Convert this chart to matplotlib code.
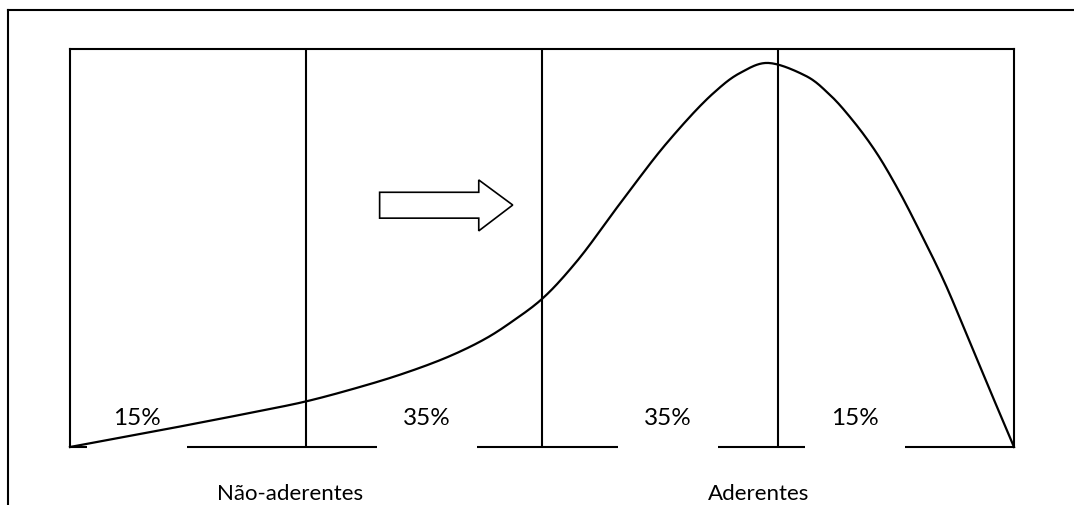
import matplotlib
matplotlib.use("Agg")
import numpy as np
import matplotlib.pyplot as plt
from matplotlib.patches import Polygon, Rectangle
from matplotlib.lines import Line2D

# Data (x: 0-100 across the distribution, y: relative height 0-100)
curve_x = [0, 10, 20, 24.9, 30, 35, 40, 44, 47, 50, 53.6, 58.4, 63.3, 68.2,
           71, 73.8, 77.9, 80.4, 82.8, 85.3, 87.7, 90.1, 92.6, 95, 97.5, 100]
curve_y = [0, 4.4, 9.0, 11.4, 14.6, 18.2, 22.6, 27.2, 31.8, 37.2, 46.4, 61.6,
           76.6, 89.0, 94.0, 96.5, 93.3, 88.7, 82.4, 74.4, 64.8, 53.8, 41.6,
           28.2, 14.0, 0]
dividers = [25, 50, 75]
pct_labels = ["15%", "35%", "35%", "15%"]
pct_x = [7.1, 37.8, 63.3, 83.2]
group_labels = ["Não-aderentes", "Aderentes"]
group_x = [23.3, 72.9]
arrow_x = [32.8, 43.3, 43.3, 46.9, 43.3, 43.3, 32.8]
arrow_y = [57.5, 57.5, 54.3, 60.8, 67.1, 64.0, 64.0]


def catmull_rom(xs, ys, n=20):
    """Smooth drawing path through the given points (centripetal Catmull-Rom)."""
    P = np.column_stack([xs, ys]).astype(float)
    P = np.vstack([2 * P[0] - P[1], P, 2 * P[-1] - P[-2]])
    out = []
    for i in range(1, len(P) - 2):
        p0, p1, p2, p3 = P[i - 1], P[i], P[i + 1], P[i + 2]
        t0 = 0.0
        t1 = t0 + np.linalg.norm(p1 - p0) ** 0.5
        t2 = t1 + np.linalg.norm(p2 - p1) ** 0.5
        t3 = t2 + np.linalg.norm(p3 - p2) ** 0.5
        t = np.linspace(t1, t2, n, endpoint=False)[:, None]
        a1 = (t1 - t) / (t1 - t0) * p0 + (t - t0) / (t1 - t0) * p1
        a2 = (t2 - t) / (t2 - t1) * p1 + (t - t1) / (t2 - t1) * p2
        a3 = (t3 - t) / (t3 - t2) * p2 + (t - t2) / (t3 - t2) * p3
        b1 = (t2 - t) / (t2 - t0) * a1 + (t - t0) / (t2 - t0) * a2
        b2 = (t3 - t) / (t3 - t1) * a2 + (t - t1) / (t3 - t1) * a3
        c = (t2 - t) / (t2 - t1) * b1 + (t - t1) / (t2 - t1) * b2
        out.append(c)
    out.append(P[-2][None, :])
    out = np.vstack(out)
    return out[:, 0], out[:, 1]


W, H = 1074, 506
fig = plt.figure(figsize=(W / 100, H / 100), dpi=100)
fig.patch.set_facecolor("white")

# outer frame lines (top and left)
fig.add_artist(Line2D([8 / W, 1.0], [1 - 11 / H, 1 - 11 / H], color="black", lw=1.5))
fig.add_artist(Line2D([8 / W, 8 / W], [1 - 11 / H, 0.0], color="black", lw=1.5))

ax = fig.add_axes([70 / W, 1 - 448 / H, (1014 - 70) / W, (448 - 50) / H])
ax.set_xlim(0, 100)
ax.set_ylim(0, 100)
ax.set_xticks([])
ax.set_yticks([])
for s in ax.spines.values():
    s.set_linewidth(1.5)
    s.set_color("black")

for d in dividers:
    ax.axvline(d, color="black", lw=1.5, zorder=2)

font = "Lato"
for lab, x in zip(pct_labels, pct_x):
    ax.add_patch(Rectangle((x - 5.3, -0.6), 10.6, 14, facecolor="white",
                           edgecolor="none", zorder=3, clip_on=False))
    ax.text(x, 7.3, lab, ha="center", va="center", fontsize=17.5,
            family=font, zorder=5)

sx, sy = catmull_rom(curve_x, curve_y)
ax.plot(sx, sy, color="black", lw=1.6, zorder=4, clip_on=False,
        solid_joinstyle="round")

ax.add_patch(Polygon(list(zip(arrow_x, arrow_y)), closed=True,
                     facecolor="white", edgecolor="black", lw=1.2, zorder=4))

for lab, x in zip(group_labels, group_x):
    ax.text(x, -11.6, lab, ha="center", va="center", fontsize=16,
            family=font, clip_on=False)

fig.savefig("out.png", dpi=100, facecolor="white")
